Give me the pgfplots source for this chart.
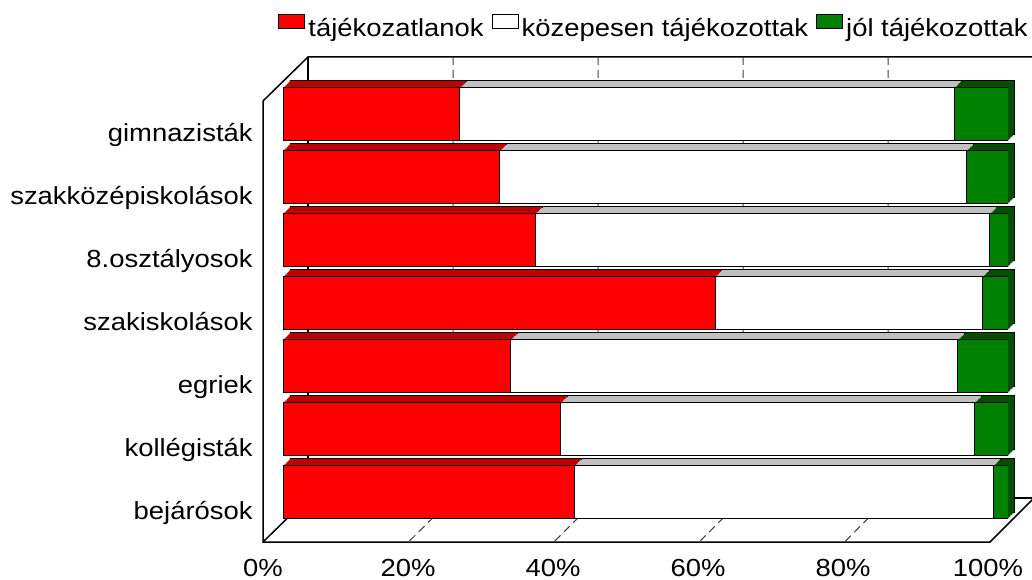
\documentclass[border=0pt]{standalone}
\usepackage{fontspec}
\setmainfont{Liberation Sans}[FakeStretch=1.11]
\usepackage{pgfplots}
\pgfplotsset{compat=1.18}
\definecolor{cred}{RGB}{255,0,0}
\definecolor{cgreen}{RGB}{0,128,0}
\definecolor{dred}{RGB}{192,0,0}
\definecolor{dgray}{RGB}{192,192,192}
\definecolor{dgreen}{RGB}{0,80,0}
\newcommand{\fsz}{\fontsize{12.35pt}{14.8pt}\selectfont}
\pgfplotsset{
  mybase/.style={
    scale only axis, width=362.5pt, height=220.5pt,
    xmin=0, xmax=100, ymin=-0.5, ymax=6.5, enlargelimits=false,
    xbar stacked, bar width=26.65pt,
    every axis plot/.append style={draw=black, line width=0.5pt},
  }
}
\pgfplotstableread{
y red white green
0 40.2 57.8 2.0
1 38.3 57.1 4.6
2 31.4 61.7 6.9
3 59.6 36.9 3.5
4 34.8 62.7 2.5
5 29.9 64.4 5.7
6 24.4 68.2 7.4
}\datatab
\begin{document}
\fsz
\begin{tikzpicture}
\useasboundingbox (0,0) rectangle (516pt,289.5pt);
\begin{scope}[x=0.5pt,y=-0.5pt,yshift=289.5pt]
  % walls and floor
  \draw[line width=0.75pt] (263,101) -- (308,57) -- (1040,57);
  \draw[line width=0.75pt] (308,57) -- (308,498) -- (1040,498);
  \draw[line width=0.75pt] (263,101) -- (263,542) -- (990,542) -- (1034,498);
  \draw[line width=0.75pt] (263,542) -- (308,498);
  % grid lines on back wall and floor
  \foreach \bx/\fx in {453/408.4,598/553.8,743/699.2,888/844.6}{
    \draw[black!75, line width=0.5pt, dash pattern=on 4pt off 2.5pt] (\bx,57) -- (\bx,498) -- (\fx,542);
  }
\end{scope}

% back layer of the 3D faces (outlined)
\begin{axis}[mybase, hide axis, at={(144.9pt,31.0pt)}, anchor=south west]
  \addplot[fill=dred] table[x=red,y=y] {\datatab};
  \addplot[fill=dgray] table[x=white,y=y] {\datatab};
  \addplot[fill=dgreen] table[x=green,y=y] {\datatab};
\end{axis}
% intermediate layers filling the slanted faces
\foreach \o in {2.85,2.3,1.75,1.2,0.65}{
\begin{axis}[mybase, hide axis, at={(141.5pt+\o pt,27.6pt+\o pt)}, anchor=south west,
  every axis plot/.append style={draw=none}]
  \addplot[fill=dred] table[x=red,y=y] {\datatab};
  \addplot[fill=dgray] table[x=white,y=y] {\datatab};
  \addplot[fill=dgreen] table[x=green,y=y] {\datatab};
\end{axis}
}

% front faces
\begin{axis}[mybase, at={(141.5pt,27.6pt)}, anchor=south west,
  axis line style={draw=none}, major tick length=0pt, tick style={draw=none},
  xtick={0,20,40,60,80,100}, xticklabels={0\%,20\%,40\%,60\%,80\%,100\%},
  ytick={0,1,2,3,4,5,6},
  yticklabels={bejárósok,kollégisták,egriek,szakiskolások,8.osztályosok,szakközépiskolások,gimnazisták},
  xticklabel style={anchor=base, inner sep=0pt, xshift=-10pt, yshift=-26.1pt, font=\fsz},
  yticklabel style={anchor=base east, inner sep=0pt, xshift=-15pt, yshift=-13.5pt, font=\fsz},
  legend style={at={(-0.0069,1.1236)}, anchor=west, draw=none, fill=none, inner sep=0pt,
    font=\fsz, column sep=1.5pt,
    /tikz/every even column/.append style={column sep=4pt},
    nodes={inner sep=0pt, text height=9pt, text depth=3pt}},
  legend columns=3, legend cell align=left,
  legend image code/.code={\draw[#1] (0pt,1.2pt) rectangle (13pt,8.2pt);},
]
  \addplot[fill=cred] table[x=red,y=y] {\datatab};
  \addplot[fill=white] table[x=white,y=y] {\datatab};
  \addplot[fill=cgreen] table[x=green,y=y] {\datatab};
  \legend{tájékozatlanok,közepesen tájékozottak,jól tájékozottak}
\end{axis}
\end{tikzpicture}
\end{document}
